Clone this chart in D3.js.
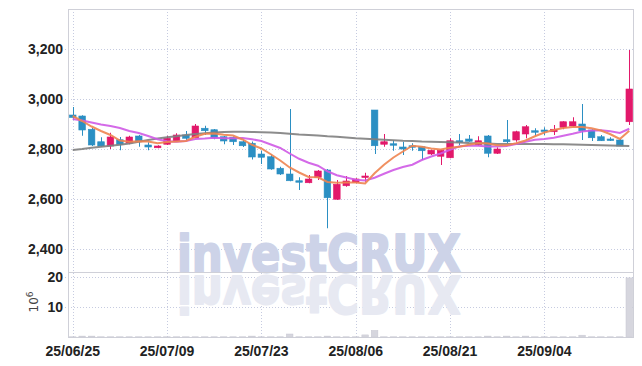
<!DOCTYPE html>
<html>
<head>
<meta charset="utf-8">
<script src="https://cdn.jsdelivr.net/npm/d3@7"></script>
<style>
  body { margin: 0; background: #fff; }
  svg { display: block; }
  .lbl { font-family: "Liberation Sans Narrow", "Liberation Sans", sans-serif; font-weight: bold; font-size: 14px; fill: #222; }
</style>
</head>
<body>
<div id="chart"></div>
<script>
// trading days shown
const dates = [
  "2025-06-25","2025-06-26","2025-06-27","2025-06-30",
  "2025-07-01","2025-07-02","2025-07-03","2025-07-04","2025-07-07","2025-07-08","2025-07-09","2025-07-10","2025-07-11",
  "2025-07-14","2025-07-15","2025-07-16","2025-07-17","2025-07-18","2025-07-21","2025-07-22","2025-07-23","2025-07-24",
  "2025-07-25","2025-07-28","2025-07-29","2025-07-30","2025-07-31",
  "2025-08-01","2025-08-04","2025-08-05","2025-08-06","2025-08-07","2025-08-08","2025-08-11","2025-08-12","2025-08-13",
  "2025-08-14","2025-08-18","2025-08-19","2025-08-20","2025-08-21","2025-08-22","2025-08-25","2025-08-26","2025-08-27",
  "2025-08-28","2025-08-29",
  "2025-09-01","2025-09-02","2025-09-03","2025-09-04","2025-09-05","2025-09-08","2025-09-09","2025-09-10","2025-09-11",
  "2025-09-12","2025-09-15","2025-09-16","2025-09-17"
];

const opens = [2936,2932,2879,2829,2812,2837,2824,2852,2816,2805,2819,2832,2856,2845,2883,2877,2849,2847,2829,2823,
  2780,2769,2723,2700,2673,2665,2687,2716,2599,2653,2667,2687,2956,2819,2821,2808,2813,2809,2780,2771,
  2765,2833,2840,2817,2852,2783,2837,2836,2860,2873,2876,2869,2887,2892,2900,2876,2849,2840,2836,2909];
const highs = [2968,2935,2884,2847,2865,2848,2853,2856,2827,2815,2853,2863,2872,2900,2893,2880,2852,2850,2836,2830,
  2793,2779,2729,2960,2687,2696,2716,2720,2676,2692,2683,2705,2956,2860,2836,2829,2823,2812,2797,2797,
  2843,2860,2856,2851,2856,2807,2916,2873,2896,2883,2887,2896,2911,2927,2980,2879,2856,2847,2840,3196];
const lows = [2916,2853,2812,2809,2800,2795,2819,2809,2795,2803,2816,2829,2836,2843,2856,2839,2819,2816,2808,2758,
  2740,2717,2696,2671,2636,2663,2676,2483,2596,2649,2663,2669,2780,2809,2793,2776,2793,2756,2776,2736,
  2763,2816,2829,2813,2767,2780,2823,2829,2843,2852,2856,2856,2879,2889,2836,2832,2832,2832,2812,2896];
const closes = [2926,2876,2816,2812,2848,2819,2848,2829,2808,2812,2843,2856,2843,2892,2873,2844,2832,2829,2813,2768,
  2767,2720,2700,2673,2668,2680,2712,2605,2659,2672,2680,2692,2813,2829,2815,2800,2807,2793,2795,2795,
  2833,2829,2831,2833,2783,2800,2829,2869,2889,2869,2872,2879,2909,2909,2873,2845,2833,2836,2812,3040];

// volume, millions
const volumes = [0.08,0.3,0.3,0.08,0.08,0.08,0.08,0.08,0.08,0.08,0.08,0.08,0.08,0.08,0.08,0.08,0.08,0.08,0.08,0.3,
  0.08,0.08,0.08,1.0,0.08,0.08,0.08,0.3,0.08,0.08,0.08,0.7,2.2,0.08,0.08,0.08,0.08,0.08,0.08,0.08,
  0.08,0.08,0.08,0.08,0.3,0.08,0.3,0.08,0.3,0.08,0.08,0.08,0.08,0.08,0.6,0.08,0.08,0.08,0.08,19.7];

const ma5 = [2932,2912,2890,2872,2856,2834,2829,2831,2830,2823,2828,2830,2832,2849,2861,2862,2857,2854,2838,2817,
  2802,2779,2754,2726,2706,2688,2687,2668,2665,2666,2666,2662,2703,2737,2766,2790,2813,2809,2802,2798,
  2805,2809,2817,2824,2822,2815,2815,2823,2834,2851,2866,2876,2884,2888,2888,2883,2874,2859,2840,2873];
const ma10 = [2920,2914,2906,2898,2892,2884,2872,2864,2852,2839,2831,2829,2832,2840,2842,2845,2843,2843,2844,2839,
  2832,2818,2804,2782,2761,2745,2733,2711,2695,2686,2677,2674,2685,2701,2716,2728,2737,2756,2770,2782,
  2797,2811,2813,2813,2810,2810,2812,2820,2829,2837,2840,2845,2853,2861,2870,2874,2875,2871,2864,2881];
const ma60 = [2796,2800,2805,2809,2813,2817,2822,2829,2836,2842,2847,2851,2856,2860,2863,2866,2868,2869,2869,2868,
  2867,2866,2864,2861,2858,2856,2854,2851,2849,2846,2843,2841,2839,2837,2835,2833,2832,2830,2829,2828,
  2827,2826,2824,2823,2822,2820,2820,2820,2820,2820,2820,2819,2819,2818,2817,2816,2815,2814,2813,2812];

const priceTicks = [2400, 2600, 2800, 3000, 3200];
const volTicks = [10, 20];
const tickDates = ["2025-06-25","2025-07-09","2025-07-23","2025-08-06","2025-08-21","2025-09-04"];

const W = 642, H = 366;
const mLeft = 68, mRight = 634, mTop = 9, mSep = 272, mBottom = 337;
const upColor = "#e2186a", downColor = "#2b8fc3";

const parse = d3.timeParse("%Y-%m-%d");
const fmtDate = d3.timeFormat("%y/%m/%d");

const x = d3.scaleBand().domain(dates).range([mLeft, mRight]).paddingInner(0.3).paddingOuter(0.15);
const cx = d => x(d) + x.bandwidth() / 2;
const y = d3.scaleLinear().domain([2308, 3360]).range([mSep, mTop]);
const yv = d3.scaleLinear().domain([0, 21.67]).range([mBottom, mSep]);

const svg = d3.select("#chart").append("svg").attr("width", W).attr("height", H);

// grid
const grid = svg.append("g").attr("stroke", "#c6cbe0").attr("stroke-dasharray", "1,2").attr("stroke-width", 1);
grid.selectAll(".hp").data(priceTicks).enter().append("line")
  .attr("x1", mLeft - 3).attr("x2", mRight).attr("y1", d => Math.round(y(d)) + 0.5).attr("y2", d => Math.round(y(d)) + 0.5);
grid.selectAll(".hv").data(volTicks).enter().append("line")
  .attr("x1", mLeft - 3).attr("x2", mRight).attr("y1", d => Math.round(yv(d)) + 0.5).attr("y2", d => Math.round(yv(d)) + 0.5);
grid.selectAll(".v").data(tickDates).enter().append("line")
  .attr("x1", d => Math.round(cx(d)) + 0.5).attr("x2", d => Math.round(cx(d)) + 0.5)
  .attr("y1", mTop).attr("y2", mBottom);

// watermark with reflection
const wm = svg.append("g").attr("font-family", "DejaVu Sans, sans-serif").attr("font-weight", "bold")
  .attr("font-size", 52).attr("stroke-linejoin", "round");
wm.append("text").attr("x", 177).attr("y", 272).attr("textLength", 284).attr("lengthAdjust", "spacingAndGlyphs")
  .attr("fill", "#cdd3e8").attr("stroke", "#cdd3e8").attr("stroke-width", 2).text("investCRUX");
wm.append("text").attr("x", 177).attr("y", -276).attr("transform", "scale(1,-1)")
  .attr("textLength", 284).attr("lengthAdjust", "spacingAndGlyphs")
  .attr("fill", "#e7e9f2").attr("stroke", "#e7e9f2").attr("stroke-width", 2).text("investCRUX");

// frame
const frame = svg.append("g").attr("stroke", "#cfd0d8").attr("fill", "none");
frame.append("rect").attr("x", mLeft + 0.5).attr("y", mTop + 0.5).attr("width", mRight - mLeft - 1).attr("height", mBottom - mTop);
frame.append("line").attr("x1", mLeft).attr("x2", mRight).attr("y1", mSep + 0.5).attr("y2", mSep + 0.5);

// volume bars
svg.append("g").selectAll("rect").data(dates).enter().append("rect")
  .attr("x", d => x(d)).attr("width", x.bandwidth())
  .attr("y", (d, i) => yv(volumes[i])).attr("height", (d, i) => mBottom - yv(volumes[i]))
  .attr("fill", "#d6d6de").attr("stroke", "#c8c8d2").attr("stroke-width", 0.5);

// candles
const candles = svg.append("g").selectAll("g").data(dates).enter().append("g")
  .attr("fill", (d, i) => closes[i] >= opens[i] ? upColor : downColor)
  .attr("stroke", (d, i) => closes[i] >= opens[i] ? upColor : downColor);
candles.append("line")
  .attr("x1", d => Math.round(cx(d)) + 0.5).attr("x2", d => Math.round(cx(d)) + 0.5)
  .attr("y1", (d, i) => y(highs[i])).attr("y2", (d, i) => y(lows[i]));
candles.append("rect")
  .attr("x", d => x(d)).attr("width", x.bandwidth())
  .attr("y", (d, i) => y(Math.max(opens[i], closes[i])))
  .attr("height", (d, i) => Math.max(1.5, Math.abs(y(opens[i]) - y(closes[i]))))
  .attr("stroke-width", 0.6);

// moving averages
const lineGen = arr => d3.line().x((d, i) => cx(dates[i])).y(d => y(d))(arr);
svg.append("path").attr("d", lineGen(ma60)).attr("fill", "none").attr("stroke", "#7f7f7f").attr("stroke-width", 2).attr("opacity", 0.9);
svg.append("path").attr("d", lineGen(ma10)).attr("fill", "none").attr("stroke", "#cf5ae6").attr("stroke-width", 2).attr("opacity", 0.9);
svg.append("path").attr("d", lineGen(ma5)).attr("fill", "none").attr("stroke", "#ee8450").attr("stroke-width", 2).attr("opacity", 0.9);

// axis labels
const fmt = d3.format(",");
svg.append("g").selectAll("text").data(priceTicks).enter().append("text")
  .attr("class", "lbl").attr("x", 63).attr("y", d => y(d)).attr("dy", "0.35em")
  .attr("text-anchor", "end").text(d => fmt(d));
svg.append("g").selectAll("text").data(volTicks).enter().append("text")
  .attr("class", "lbl").attr("x", 63).attr("y", d => yv(d)).attr("dy", "0.35em")
  .attr("text-anchor", "end").text(d => d);
svg.append("g").selectAll("text").data(tickDates).enter().append("text")
  .attr("class", "lbl").attr("x", d => cx(d)).attr("y", 356)
  .attr("text-anchor", "middle").text(d => fmtDate(parse(d)));

// volume unit
const unit = svg.append("text").attr("transform", "translate(38,302) rotate(-90)")
  .attr("text-anchor", "middle").attr("font-family", "DejaVu Sans, sans-serif").attr("font-size", 12).attr("fill", "#444");
unit.append("tspan").text("10");
unit.append("tspan").attr("dy", -5).attr("font-size", 9).text("6");
</script>
</body>
</html>
